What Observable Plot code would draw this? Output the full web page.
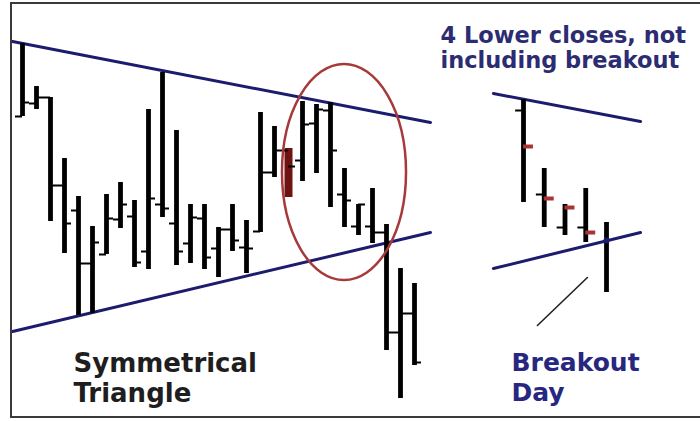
<!DOCTYPE html>
<html>
<head>
<meta charset="utf-8">
<script src="https://cdn.jsdelivr.net/npm/d3@7"></script>
<script src="https://cdn.jsdelivr.net/npm/@observablehq/plot@0.6"></script>
<style>
  body { margin: 0; background: #fff; }
  #wrap { position: relative; width: 700px; height: 421px; overflow: hidden; background: #fff; }
  #wrap svg { position: absolute; left: 0; top: 0; }
  #frame { position: absolute; left: 10px; top: 2px; width: 720px; height: 416px; border: 2px solid #3a3a3a; box-sizing: border-box; pointer-events: none; }
</style>
</head>
<body>
<div id="wrap"><div id="frame"></div></div>
<script>
// ---- Main panel: daily OHLC bars (day index, price) ----
const days   = [0,1,2,3,4,5,6,7,8,9,10,11,12,13,14,15,16,17,18,19,20,21,22,23,24,25,26,27,28];
const opens  = [30.5,31.8,32.4,23.6,21.1,15.8,16.7,20.2,20.5,17.0,21.7,19.8,17.8,20.3,17.3,19.2,17.4,19.0,24.9,27.1,26.1,29.8,31.1,22.7,19.5,19.5,18.9,8.9,10.8];
const highs  = [37.8,33.5,32.4,26.3,22.5,19.5,22.7,23.9,22.1,31.2,34.9,29.1,21.7,21.7,19.4,21.7,20.1,30.9,29.5,27.3,32.0,31.7,31.9,25.3,21.7,23.3,19.7,15.3,13.8];
const lows   = [30.5,31.2,20.0,16.8,10.6,10.8,16.7,19.3,15.4,15.2,20.4,15.6,15.8,15.2,14.4,17.0,14.8,18.9,24.4,22.4,24.0,24.8,21.4,19.4,18.6,17.8,7.1,2.3,5.6];
const closes = [31.9,32.4,23.6,19.8,15.8,17.9,20.3,21.7,15.9,22.3,21.3,17.0,20.4,16.4,19.2,18.1,17.3,24.9,27.1,25.5,29.7,31.2,27.1,22.1,21.7,18.9,8.9,10.8,5.9];
const highlightedDay = 19;

// Triangle trendlines (day, price)
const upperLine = [{day: -0.71, price: 38.0}, {day: 29.14, price: 29.9}];
const lowerLine = [{day: -0.71, price: 9.0},  {day: 29.14, price: 18.9}];

// Circled region (centre day/price, radii in days/price)
const circled = {day: 23.0, price: 24.9, rDays: 4.43, rPrice: 10.8};

// ---- Right panel: the four lower closes + breakout day ----
const zDays   = [0,1,2,3,4];
const zOpens  = [31.1,22.7,19.4,19.4,null];
const zHighs  = [32.2,25.3,21.7,23.3,19.9];
const zLows   = [21.9,19.4,18.6,17.9,12.9];
const zCloses = [27.5,22.3,21.4,18.9,null];
const zUpper = [{day: -1.45, price: 32.8}, {day: 5.64, price: 30.0}];
const zLower = [{day: -1.45, price: 15.3}, {day: 5.64, price: 18.9}];
const zBreakPoint = [{day: 4, price: 18.1}];
const zPointer = [{day: 0.67, price: 9.6}, {day: 3.08, price: 14.4}];

// ---- Labels ----
const triangleLabel = ["Symmetrical", "Triangle"];
const breakoutLabel = ["Breakout", "Day"];
const noteLabel = ["4 Lower closes, not", "including breakout"];

const main = days.map((d, i) => ({day: d, open: opens[i], high: highs[i], low: lows[i], close: closes[i]}));
const zoom = zDays.map((d, i) => ({day: d, open: zOpens[i], high: zHighs[i], low: zLows[i], close: zCloses[i]}));

const W = 700, H = 421;
const yDomain = [0, 42.1];
const navy = "#1c1c6e";
const font = "DejaVu Sans, Verdana, sans-serif";

const chart1 = Plot.plot({
  width: W, height: H, margin: 0,
  x: {domain: [-22 / 14, 678 / 14], axis: null},
  y: {domain: yDomain, axis: null},
  style: {background: "none", overflow: "visible"},
  marks: [
    Plot.line(upperLine, {x: "day", y: "price", stroke: navy, strokeWidth: 3}),
    Plot.line(lowerLine, {x: "day", y: "price", stroke: navy, strokeWidth: 3}),
    Plot.ruleX(main.filter(d => d.day !== highlightedDay), {x: "day", y1: "low", y2: "high", stroke: "#000", strokeWidth: 4.8}),
    Plot.ruleX(main.filter(d => d.day === highlightedDay), {x: "day", y1: "low", y2: "high", stroke: "#6e1212", strokeWidth: 8}),
    Plot.ruleY(main, {y: "open", x1: d => d.day - 0.5, x2: "day", stroke: "#000", strokeWidth: 2}),
    Plot.ruleY(main, {y: "close", x1: "day", x2: d => d.day + 0.5, stroke: "#000", strokeWidth: 2}),
    Plot.text(triangleLabel, {x: () => 3.64, y: (d, i) => 5.0 - 3.0 * i, text: d => d, textAnchor: "start", lineAnchor: "bottom",
      fontSize: 26, fontWeight: "bold", fontFamily: font, fill: "#1e1e1e"}),
    Plot.text(breakoutLabel, {x: () => 34.93, y: (d, i) => 5.1 - 3.0 * i, text: d => d, textAnchor: "start", lineAnchor: "bottom",
      fontSize: 25, fontWeight: "bold", fontFamily: font, fill: "#27277f"}),
    Plot.text(noteLabel, {x: () => 29.86, y: (d, i) => 37.9 - 2.5 * i, text: d => d, textAnchor: "start", lineAnchor: "bottom",
      fontSize: 22.5, fontWeight: "bold", fontFamily: font, fill: "#2c2c72"})
  ]
});

const chart2 = Plot.plot({
  width: W, height: H, margin: 0,
  x: {domain: [-523 / 20.75, 177 / 20.75], axis: null},
  y: {domain: yDomain, axis: null},
  style: {background: "none", overflow: "visible"},
  marks: [
    Plot.line(zUpper, {x: "day", y: "price", stroke: navy, strokeWidth: 3}),
    Plot.line(zLower, {x: "day", y: "price", stroke: navy, strokeWidth: 3}),
    Plot.ruleX(zoom, {x: "day", y1: "low", y2: "high", stroke: "#000", strokeWidth: 4.8}),
    Plot.ruleY(zoom.filter(d => d.open != null), {y: "open", x1: d => d.day - 0.38, x2: "day", stroke: "#000", strokeWidth: 2}),
    Plot.ruleY(zoom.filter(d => d.close != null), {y: "close", x1: "day", x2: d => d.day + 0.48, stroke: "#a83434", strokeWidth: 4}),
    Plot.dot(zBreakPoint, {x: "day", y: "price", r: 3, fill: navy}),
    Plot.line(zPointer, {x: "day", y: "price", stroke: "#222", strokeWidth: 1.6})
  ]
});

// Ellipse around the converging apex, placed via the main chart's scales
const sx = chart1.scale("x"), sy = chart1.scale("y");
d3.select(chart1).append("ellipse")
  .attr("cx", sx.apply(circled.day))
  .attr("cy", sy.apply(circled.price))
  .attr("rx", Math.abs(sx.apply(circled.day + circled.rDays) - sx.apply(circled.day)))
  .attr("ry", Math.abs(sy.apply(circled.price + circled.rPrice) - sy.apply(circled.price)))
  .attr("fill", "none").attr("stroke", "#a63a3a").attr("stroke-width", 2.5);

const wrap = document.getElementById("wrap");
wrap.insertBefore(chart1, wrap.firstChild);
wrap.insertBefore(chart2, document.getElementById("frame"));
</script>
</body>
</html>
